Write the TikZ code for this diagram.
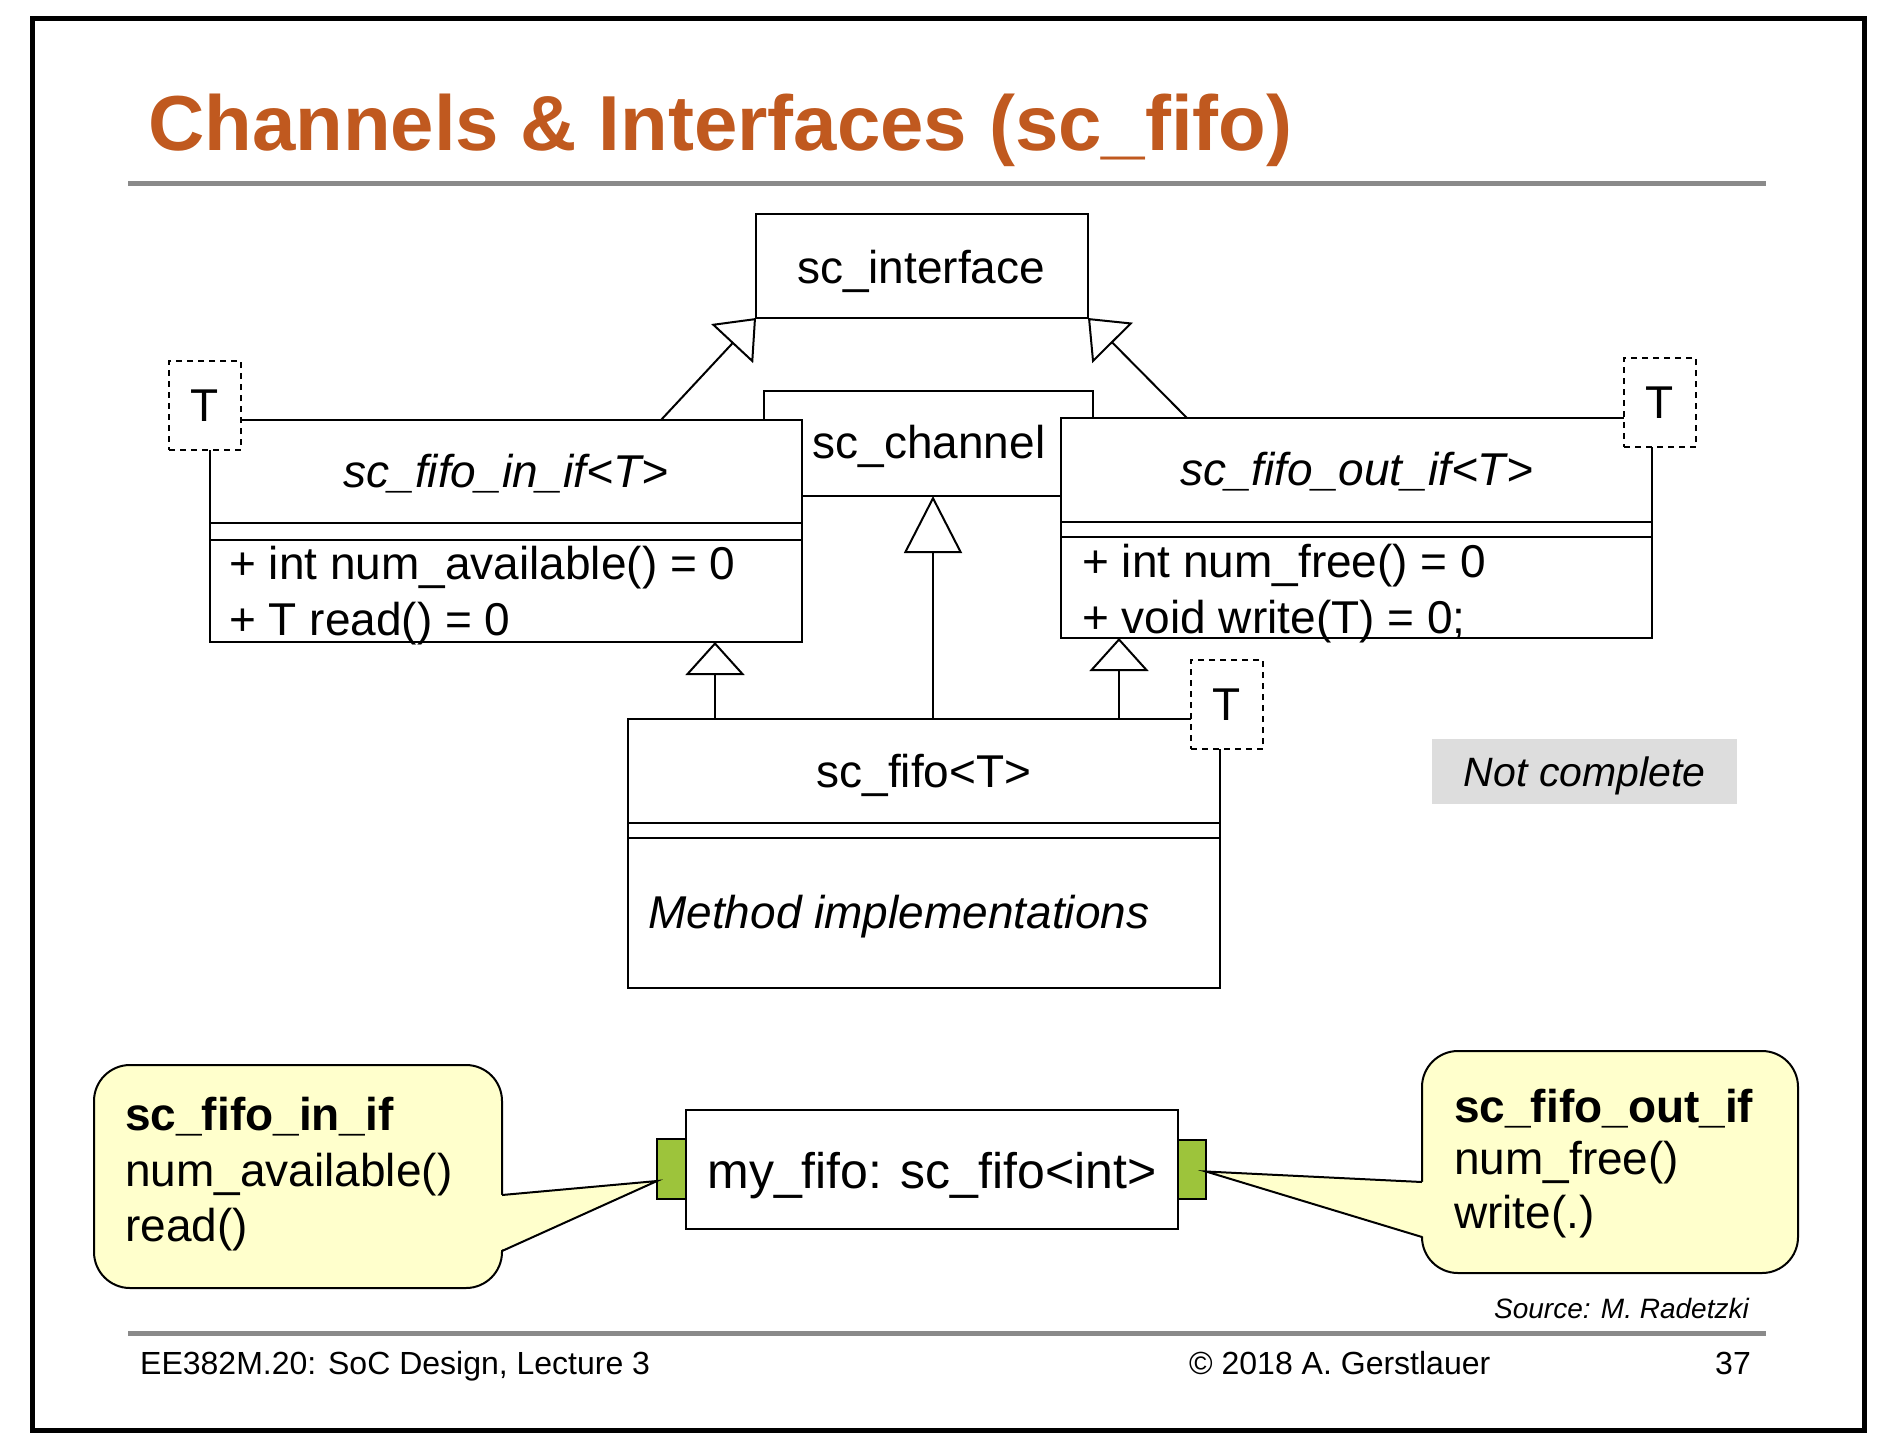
\documentclass[tikz,border=0pt]{standalone}
\usepackage{fontspec}
\setmainfont{Liberation Sans}
\usetikzlibrary{arrows.meta,calc}

\definecolor{titleorange}{HTML}{C0591F}
\definecolor{notegray}{HTML}{DDDDDD}
\definecolor{rulegray}{HTML}{8A8A8A}
\definecolor{calloutfill}{HTML}{FFFFCC}
\definecolor{portgreen}{HTML}{9DC43B}

\newcommand\bodysize{\fontsize{46}{52}\selectfont}

\begin{document}
\begin{tikzpicture}[x=1pt,y=-1pt,
  box/.style={draw, line width=2pt, fill=white, inner sep=0pt, outer sep=0pt, anchor=north west},
  tparam/.style={draw, dash pattern=on 6pt off 5pt, line width=1.8pt, fill=white,
    minimum width=72pt, minimum height=89pt, inner sep=0pt, outer sep=0pt,
    anchor=north west, font=\bodysize},
  sep/.style={line width=2pt},
  gen/.style={line width=2pt, -{Triangle[open, length=35pt, width=57pt]}},
  gensmall/.style={line width=2pt, -{Triangle[open, length=33pt, width=59pt]}},
  genbig/.style={line width=2pt, -{Triangle[open, length=57pt, width=58pt]}},
  label/.style={inner sep=0pt, font=\bodysize},
  port/.style={draw, line width=2pt, fill=portgreen, inner sep=0pt, outer sep=0pt},
  callout/.style={draw, line width=2pt, fill=calloutfill, rounded corners=36pt},
  rule/.style={line width=5pt, rulegray},
]
\useasboundingbox (0,0) rectangle (1878,1438);

% slide frame, title and rules
\draw[line width=5pt] (32,18) rectangle (1864,1430);
\node[anchor=base west, inner sep=0pt, text=titleorange,
  font=\fontsize{78}{90}\selectfont\bfseries] (title) at (148,150)
  {Channels \& Interfaces (sc\_fifo)};
\draw[rule] (128,183) -- (1766,183);
\draw[rule] (128,1333) -- (1766,1333);

% sc_interface
\node[box, minimum width=332pt, minimum height=104pt] (iface) at (756,214) {};
\node[label, anchor=base] at (921,283) {sc\_interface};

% sc_channel (partly hidden behind the two interface classes)
\node[box, minimum width=329pt, minimum height=105pt] (chan) at (764,391) {};
\node[label, anchor=base] at (929,458) {sc\_channel};

% sc_fifo_in_if<T>
\node[box, minimum width=592pt, minimum height=222pt] (inif) at (210,420) {};
\draw[sep] ([yshift=-103pt]inif.north west) -- ([yshift=-103pt]inif.north east);
\draw[sep] ([yshift=-120pt]inif.north west) -- ([yshift=-120pt]inif.north east);
\node[label, anchor=base, font=\bodysize\itshape] at ([yshift=-67pt]inif.north) {sc\_fifo\_in\_if<T>};
\node[label, anchor=base west] at (229,579) {+ int num\_available() = 0};
\node[label, anchor=base west] at (229,635) {+ T read() = 0};
\node[tparam] (tinif) at (169,361) {T};

% sc_fifo_out_if<T>
\node[box, minimum width=591pt, minimum height=220pt] (outif) at (1061,418) {};
\draw[sep] ([yshift=-104pt]outif.north west) -- ([yshift=-104pt]outif.north east);
\draw[sep] ([yshift=-119pt]outif.north west) -- ([yshift=-119pt]outif.north east);
\node[label, anchor=base, font=\bodysize\itshape] at ([yshift=-67pt]outif.north) {sc\_fifo\_out\_if<T>};
\node[label, anchor=base west] at (1082,577) {+ int num\_free() = 0};
\node[label, anchor=base west] at (1082,633) {+ void write(T) = 0;};
\node[tparam] (toutif) at (1624,358) {T};

% sc_fifo<T>
\node[box, minimum width=592pt, minimum height=269pt] (fifo) at (628,719) {};
\draw[sep] ([yshift=-104pt]fifo.north west) -- ([yshift=-104pt]fifo.north east);
\draw[sep] ([yshift=-119pt]fifo.north west) -- ([yshift=-119pt]fifo.north east);
\node[label, anchor=base] at (924,787) {sc\_fifo<T>};
\node[label, anchor=base west, font=\bodysize\itshape] at (648,928) {Method implementations};
\node[tparam] (tfifo) at (1191,660) {T};

% generalisation arrows
\draw[gen] ([xshift=451pt]inif.north west) -- (iface.south west);
\draw[gen] ([xshift=126pt]outif.north west) -- (iface.south east);
\draw[genbig] ([xshift=305pt]fifo.north west) -- ([xshift=169pt]chan.south west);
\draw[gensmall] ([xshift=87pt]fifo.north west) -- ([xshift=505pt]inif.south west);
\draw[gensmall] ([xshift=491pt]fifo.north west) -- ([xshift=58pt]outif.south west);

% note
\node[fill=notegray, minimum width=305pt, minimum height=65pt, inner sep=0pt, anchor=north west] (note) at (1432,739) {};
\node[label, anchor=base, font=\fontsize{41}{48}\selectfont\itshape] at (note.center |- 0,786) {Not complete};

% instance with its two ports
\node[box, minimum width=492pt, minimum height=119pt] (myfifo) at (686,1110) {};
\node[label, anchor=base, font=\fontsize{50}{58}\selectfont] at (myfifo.center |- 0,1188) {my\_fifo: sc\_fifo<int>};
\node[port, minimum width=29pt, minimum height=60pt, anchor=north east] (portL) at (686,1139) {};
\node[port, minimum width=28pt, minimum height=59pt, anchor=north west] (portR) at (1178,1140) {};
\coordinate (tipL) at ([yshift=-12pt]portL.west);
\coordinate (tipR) at ([yshift=-2pt]portR.east);

% callout for the input interface
\draw[callout] (94,1065) rectangle (502,1288);
\fill[calloutfill] (499,1195) -- (tipL) -- (499,1251) -- cycle;
\draw[line width=2pt, line join=miter] (502,1195) -- (tipL) -- (502,1251);
\node[label, anchor=base west, font=\bodysize\bfseries] at (125,1130) {sc\_fifo\_in\_if};
\node[label, anchor=base west] at (125,1186) {num\_available()};
\node[label, anchor=base west] at (125,1241) {read()};

% callout for the output interface
\draw[callout] (1422,1051) rectangle (1798,1273);
\fill[calloutfill] (1425,1182) -- (tipR) -- (1425,1237) -- cycle;
\draw[line width=2pt, line join=miter] (1422,1182) -- (tipR) -- (1422,1237);
\node[label, anchor=base west, font=\bodysize\bfseries] at (1454,1122) {sc\_fifo\_out\_if};
\node[label, anchor=base west] at (1454,1174) {num\_free()};
\node[label, anchor=base west] at (1454,1228) {write(.)};

% source and footer
\node[label, anchor=base east, font=\fontsize{28}{32}\selectfont\itshape] at (1749,1318) {Source: M. Radetzki};
\node[label, anchor=base west, font=\fontsize{32}{36}\selectfont] at (140,1374) {EE382M.20: SoC Design, Lecture 3};
\node[label, anchor=base west, font=\fontsize{32}{36}\selectfont] at (1189,1374) {© 2018 A. Gerstlauer};
\node[label, anchor=base east, font=\fontsize{32}{36}\selectfont] at (1751,1374) {37};
\end{tikzpicture}
\end{document}
